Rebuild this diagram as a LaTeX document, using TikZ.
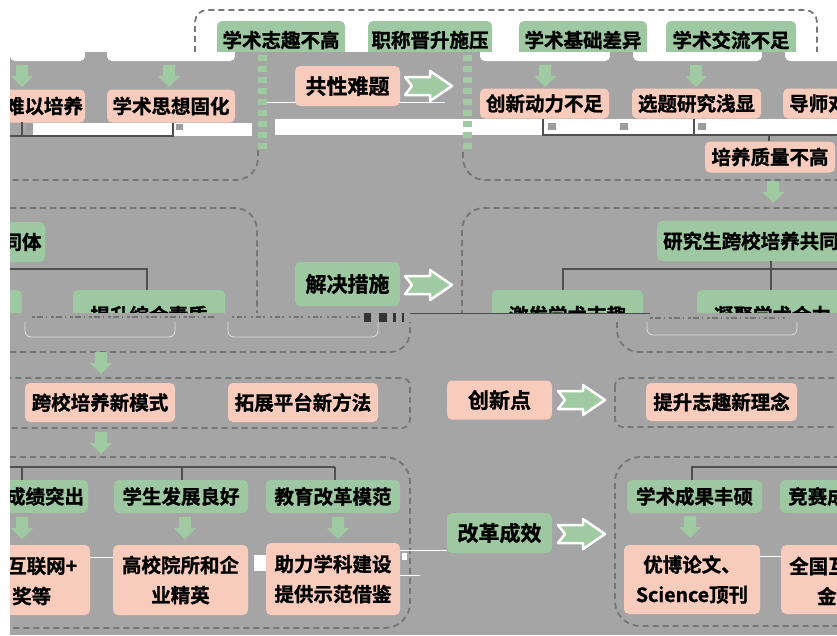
\documentclass[tikz,border=0pt]{standalone}
\usepackage{fontspec}
\newfontfamily\cjk{Noto Sans CJK SC}[BoldFont={Noto Sans CJK SC Bold}, BoldFeatures={FakeBold=1.2}]
\definecolor{bgc}{HTML}{A5A5A5}
\definecolor{gfill}{HTML}{9DC8A1}
\definecolor{pfill}{HTML}{F8CCBD}
\definecolor{arrc}{HTML}{A0CBA2}
\definecolor{dashc}{HTML}{767676}
\definecolor{treec}{HTML}{505050}
\definecolor{sqc}{HTML}{9C9C9C}
\newcommand\darr[2]{\fill[arrc] ({#1-6},#2) -- ({#1+6},#2) -- ({#1+6},{#2+11}) -- ({#1+11},{#2+11}) -- (#1,{#2+22}) -- ({#1-11},{#2+11}) -- ({#1-6},{#2+11}) -- cycle;}
\newcommand\rarr[2]{\filldraw[fill=arrc, draw=white, line width=2.5pt, line join=round] (#1,{#2-9}) -- ({#1+25},{#2-9}) -- ({#1+25},{#2-15}) -- ({#1+47},#2) -- ({#1+25},{#2+15}) -- ({#1+25},{#2+9}) -- (#1,{#2+9}) -- ({#1+7},#2) -- cycle;}
\newcommand\wbit[2]{\fill[white] (#1,52) rectangle (#2,56); \fill[white, rounded corners=5pt] (#1,52) rectangle (#2,61);}
\tikzset{
  nd/.style={rounded corners=5pt, inner sep=0pt, text=black, font=\cjk\bfseries\fontsize{19.5}{30}\selectfont, align=center},
  gn/.style={nd, fill=gfill},
  pn/.style={nd, fill=pfill},
  bigf/.style={font=\cjk\bfseries\fontsize{21}{30}\selectfont},
  tx/.style={inner sep=0pt, text=black, font=\cjk\bfseries\fontsize{19.5}{30}\selectfont},
  dbox/.style={draw=dashc, line width=1.8pt, dash pattern=on 6pt off 4pt},
  tree/.style={draw=treec, line width=1.2pt},
  wl/.style={draw=white, line width=1pt},
  gdash/.style={draw=arrc, line width=9pt, dash pattern=on 6pt off 5pt},
  lite/.style={draw=white!75!gray, line width=0.8pt, rounded corners=6pt},
  noise/.style={draw=black!55, line width=2.5pt}
}
\begin{document}
\begin{tikzpicture}[x=1pt,y=-1pt]
\useasboundingbox (0,0) rectangle (837,635);
% background
\fill[bgc] (0,0) rectangle (837,635);
\fill[white] (0,0) rectangle (837,52);
% top dashed box
\draw[dbox, rounded corners=12pt] (195,52) -- (195,10) -- (817,10) -- (817,52);
% top green nodes
\node[gn, minimum width=128, minimum height=38] (tg1) at (281,40) {学术志趣不高};
\node[gn, minimum width=124, minimum height=38] (tg2) at (430,40) {职称晋升施压};
\node[gn, minimum width=128, minimum height=38] (tg3) at (583,40) {学术基础差异};
\node[gn, minimum width=130, minimum height=38] (tg4) at (731,40) {学术交流不足};
\fill[bgc] (10,52) rectangle (837,66);
% white bits
\wbit{10}{85} \wbit{107}{235} \wbit{480}{610} \wbit{633}{762} \wbit{785}{850}
% white bands
\fill[white] (33,123) rectangle (252,136);
\fill[white] (275,119) rectangle (837,135);
\fill[sqc] (27,124) rectangle (33,130);
\fill[sqc] (176,124) rectangle (183,130);
\fill[sqc] (548,123) rectangle (556,130);
\fill[sqc] (620,123) rectangle (628,130);
\fill[sqc] (698,123) rectangle (706,130);
\draw[wl] (267,102) -- (445,102);
% green dashed sides
\draw[gdash] (262,55) -- (262,150);
\draw[gdash] (467,55) -- (467,152);
% top-row nodes
\node[pn, minimum width=82, minimum height=33] (p1) at (44,106) {难以培养};
\node[pn, minimum width=128, minimum height=33] (p2) at (171,106) {学术思想固化};
\node[pn, minimum width=129, minimum height=30] (p3) at (544.5,103.5) {创新动力不足};
\node[pn, minimum width=129, minimum height=30] (p4) at (696.5,103.5) {选题研究浅显};
\node[pn, anchor=west, minimum height=30, inner xsep=6pt] (p5) at (783,103.5) {导师对};
\node[pn, minimum width=130, minimum height=31] (p6) at (770,157) {培养质量不高};
\node[pn, bigf, minimum width=105, minimum height=40] (c1) at (347.5,86) {共性难题};
\rarr{405}{86}
\darr{22}{65} \darr{169}{65} \darr{545}{65} \darr{696}{65}
% top tree lines
\coordinate (tl) at (10,136);
\draw[tree] (22,122) -- (22,136);
\draw[tree] (p2.south -| 173,0) -- (173,136) -- (tl);
\draw[tree] (p3.south -| 543,0) -- (543,135) -- (837,135);
\draw[tree] (p4.south -| 694,0) -- (694,135);
\draw[tree] (769,135) -- (p6.north -| 769,0);
% upper boxes bottoms
\draw[dbox, rounded corners=22pt] (258,150) -- (258,180) -- (10,180);
\draw[dbox, rounded corners=22pt] (463,152) -- (463,180) -- (837,180);
\darr{773}{181}
% middle boxes
\draw[dbox, rounded corners=22pt] (10,208) -- (257,208) -- (257,316);
\draw[dbox, rounded corners=22pt] (462,316) -- (462,208) -- (837,208);
\node[gn, minimum width=46, minimum height=40] (g1) at (22,242) {同体};
\node[gn, minimum width=40, minimum height=50] (g2) at (2,315) {};
\node[gn, minimum width=152, minimum height=50] (g3) at (149,315) {提升综合素质};
\node[gn, anchor=west, minimum height=40, inner xsep=6pt] (g4) at (657,241) {研究生跨校培养共同体};
\node[gn, minimum width=151, minimum height=50] (g5) at (567.5,315) {激发学术志趣};
\node[gn, minimum width=151, minimum height=50] (g6) at (772.5,315) {凝聚学术合力};
\node[gn, bigf, minimum width=105, minimum height=44] (c2) at (347.5,284) {解决措施};
\rarr{405}{285}
\draw[tree] (10,269) -| (147,290);
\draw[tree] (g4.south -| 771,0) -- (771,290);
\draw[tree] (563,290) -- (563,269) -- (837,269);
% glitch band
\fill[bgc] (10,313) rectangle (837,349);
\draw[noise, dash pattern=on 3pt off 2pt on 6pt off 3pt on 1pt off 4pt] (32,317) -- (215,317);
\draw[noise, dash pattern=on 2pt off 3pt on 5pt off 2pt on 2pt off 5pt] (232,317) -- (360,317);
\fill[black!80] (364,313) rectangle (371,322);
\fill[black!80] (379,313) rectangle (387,322);
\fill[black!80] (393,313) rectangle (396,322);
\fill[black!80] (402,313) rectangle (404,322);
\draw[black!70, line width=0.8pt] (410,313) -- (650,313);
\draw[noise, dash pattern=on 3pt off 2pt on 6pt off 3pt on 1pt off 4pt] (650,318) -- (785,318);
\draw[lite] (25,322) -- (25,337) -- (175,337) -- (175,322);
\draw[lite] (228,322) -- (228,337) -- (378,337) -- (378,322);
\draw[lite] (647,322) -- (647,335) -- (797,335) -- (797,322);
\draw[dbox, rounded corners=20pt] (10,352) -- (410,352) -- (410,322);
\draw[dbox, rounded corners=22pt] (617,322) -- (617,352) -- (837,352);
\darr{101}{352}
% new mode row
\draw[dbox, rounded corners=8pt] (0,378) rectangle (410,428);
\node[pn, minimum width=150, minimum height=39] (p7) at (100,402.5) {跨校培养新模式};
\node[pn, minimum width=150, minimum height=39] (p8) at (303,402.5) {拓展平台新方法};
\node[pn, bigf, minimum width=105, minimum height=39] (c3) at (499.5,400) {创新点};
\rarr{558}{400}
\draw[dbox, rounded corners=8pt] (615,378) rectangle (850,427);
\node[pn, minimum width=151, minimum height=38] (p9) at (721.5,402) {提升志趣新理念};
\darr{101}{432}
% results boxes
\draw[dbox, rounded corners=25pt] (0,457) -- (410,457) -- (410,628) -- (0,628);
\draw[dbox, rounded corners=25pt] (850,457) -- (615,457) -- (615,626) -- (850,626);
\draw[tree] (10,467) -- (335,467);
\draw[tree] (22,467) -- (22,480);
\draw[tree] (182,467) -- (182,480);
\draw[tree] (335,467) -- (335,480);
\draw[tree] (837,467) -- (692,467) -- (692,480);
\node[gn, minimum width=86, minimum height=33] (g7) at (45,496.5) {成绩突出};
\node[gn, minimum width=134, minimum height=33] (g8) at (181,496.5) {学生发展良好};
\node[gn, minimum width=134, minimum height=33] (g9) at (333,496.5) {教育改革模范};
\node[gn, minimum width=135, minimum height=33] (g10) at (694.5,496.5) {学术成果丰硕};
\node[gn, anchor=west, minimum height=33, inner xsep=8pt] (g11) at (780,496.5) {竞赛成};
\darr{22}{517} \darr{185}{517} \darr{338}{517} \darr{690}{516}
\node[pn, minimum width=130, minimum height=70] (p10) at (25,580) {};
\node[tx, anchor=west] (t10a) at (7,566) {互联网+};
\node[tx, anchor=west] (t10b) at (12,596) {奖等};
\node[pn, minimum width=135, minimum height=70] (p11) at (180.5,580) {高校院所和企\\业精英};
\node[pn, minimum width=134, minimum height=72] (p12) at (333,579) {助力学科建设\\提供示范借鉴};
\node[pn, minimum width=136, minimum height=69] (p13) at (692,579.5) {优博论文、\\Science顶刊};
\node[pn, anchor=west, minimum width=80, minimum height=69] (p14) at (781,579.5) {};
\node[tx, anchor=west] (t14a) at (789,566) {全国互};
\node[tx, anchor=west] (t14b) at (817,596) {金};
\node[gn, bigf, minimum width=105, minimum height=40] (c4) at (499.5,533) {改革成效};
\rarr{558}{534}
% white connector remnants
\draw[wl] (p10.east |- 0,557) -- (p11.west |- 0,557);
\draw[wl] (p12.east |- 0,550) -- (c4.west |- 0,550);
\draw[wl] (400,575) -- (420,575);
\draw[wl] (p13.east |- 0,556) -- (p14.west |- 0,556);
\fill[white] (254,555) rectangle (266,571);
\fill[white] (402,553) rectangle (407,560);
% left white strip
\fill[white] (0,0) rectangle (10,635);
\end{tikzpicture}
\end{document}
